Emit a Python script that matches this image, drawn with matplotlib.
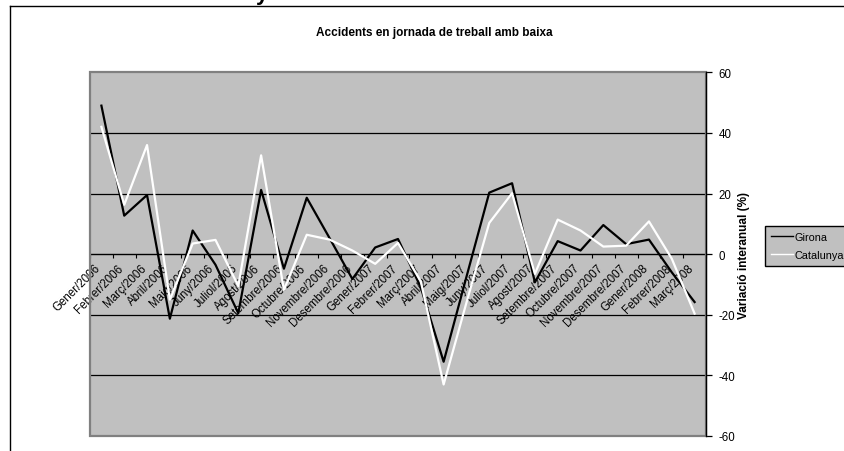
import matplotlib
matplotlib.use("Agg")
import matplotlib.pyplot as plt
import numpy as np
from matplotlib.lines import Line2D
from matplotlib.patches import Rectangle
from matplotlib.transforms import ScaledTranslation

plt.rcParams['font.family'] = ['Liberation Sans', 'DejaVu Sans']

months = ["Gener/2006", "Febrer/2006", "Març/2006", "Abril/2006", "Maig/2006",
          "Juny/2006", "Juliol/2006", "Agost/2006", "Setembre/2006", "Octubre/2006",
          "Novembre/2006", "Desembre/2006", "Gener/2007", "Febrer/2007", "Març/2007",
          "Abril/2007", "Maig/2007", "Juny/2007", "Juliol/2007", "Agost/2007",
          "Setembre/2007", "Octubre/2007", "Novembre/2007", "Desembre/2007",
          "Gener/2008", "Febrer/2008", "Març/2008"]

girona = [49.0, 12.7, 19.5, -21.3, 7.8, -3.5, -19.5, 21.2, -4.8, 18.6,
          5.3, -8.2, 2.2, 5.0, -11.0, -35.5, -7.5, 20.3, 23.4, -9.3,
          4.3, 1.2, 9.6, 3.3, 4.8, -6.0, -15.8]

catalunya = [42.0, 16.3, 36.0, -15.0, 3.5, 4.7, -10.5, 32.6, -11.8, 6.4,
             4.8, 1.2, -3.2, 3.7, -9.0, -43.0, -16.0, 10.3, 20.1, -6.5,
             11.4, 7.8, 2.5, 2.8, 10.8, -1.5, -19.6]

y_ticks = [-60, -40, -20, 0, 20, 40, 60]

W, H = 845, 452
fig = plt.figure(figsize=(W / 100, H / 100), dpi=100)
fig.patch.set_facecolor('white')

# chart-area frame (top and left edges)
fig.add_artist(Line2D([10 / W, 1.0], [1 - 7 / H, 1 - 7 / H], color='black', lw=1.0))
fig.add_artist(Line2D([10 / W, 10 / W], [0.0, 1 - 7 / H], color='black', lw=1.0))

# descender of the page heading above the chart
fig.text(262 / W, 1.0, "y", fontsize=16, fontweight='bold', ha='center',
         va='baseline', color='black')

left, right, top, bottom = 90, 706, 73.3, 437
ax = fig.add_axes([left / W, 1 - bottom / H, (right - left) / W, (bottom - top) / H])
ax.set_facecolor('#C0C0C0')

x = np.arange(len(months))
ax.set_xlim(-0.5, len(months) - 0.5)
ax.set_ylim(-60, 60)

for v in [-40, -20, 20, 40]:
    ax.axhline(v, color='black', lw=0.9, zorder=1)

ax.plot(x, girona, color='black', lw=1.6, label='Girona', zorder=3)
ax.plot(x, catalunya, color='white', lw=1.6, label='Catalunya', zorder=3)

# plot-area border
for s in ['left', 'top']:
    ax.spines[s].set_visible(False)
ax.add_patch(Rectangle((0, 0), 1, 1, transform=ax.transAxes, fill=False,
                       edgecolor='#808080', lw=1.6, zorder=4, clip_on=False))

# category axis crossing at zero
ax.spines['bottom'].set_position(('data', 0))
ax.spines['bottom'].set_color('black')
ax.spines['bottom'].set_linewidth(1.0)
ax.spines['bottom'].set_zorder(2)
ax.spines['right'].set_color('black')
ax.spines['right'].set_linewidth(1.0)
ax.spines['right'].set_zorder(5)

ax.set_xticks(x)
ax.set_xticklabels(months, rotation=45, ha='right', va='center',
                   rotation_mode='anchor', fontsize=8.3)
ax.set_xticks(np.arange(len(months) + 1) - 0.5, minor=True)
ax.tick_params(axis='x', which='major', length=0, pad=8.5)
ax.tick_params(axis='x', which='minor', length=3, width=0.8, direction='out',
               color='black')
shift = ScaledTranslation(-2 / 72, 0, fig.dpi_scale_trans)
for lab in ax.get_xticklabels():
    lab.set_transform(lab.get_transform() + shift)

ax.yaxis.tick_right()
ax.set_yticks(y_ticks)
ax.set_yticklabels([str(v) for v in y_ticks], fontsize=8.3)
ax.tick_params(axis='y', which='major', length=4, width=0.9, direction='out',
               pad=5, color='black')
ax.yaxis.set_label_position('right')
ax.set_ylabel("Variació interanual (%)", fontsize=8.5, fontweight='bold')
ax.yaxis.set_label_coords((738 - left) / (right - left), 0.5)

fig.text(434 / W, 1 - 33 / H, "Accidents en jornada de treball amb baixa",
         fontsize=8.5, fontweight='bold', ha='center', va='center')

leg = fig.legend(loc='upper left', bbox_to_anchor=(765 / W, 1 - 227 / H),
                 fontsize=7.8, frameon=True, fancybox=False, shadow=False,
                 handlelength=2.0, handletextpad=0.2, labelspacing=0.7,
                 borderpad=0.55, borderaxespad=0)
leg.get_frame().set_facecolor('#C0C0C0')
leg.get_frame().set_edgecolor('black')
leg.get_frame().set_linewidth(1.0)
leg.get_frame().set_alpha(1.0)
for h in leg.get_lines():
    h.set_linewidth(1.0)

fig.savefig("out.png", dpi=100)
